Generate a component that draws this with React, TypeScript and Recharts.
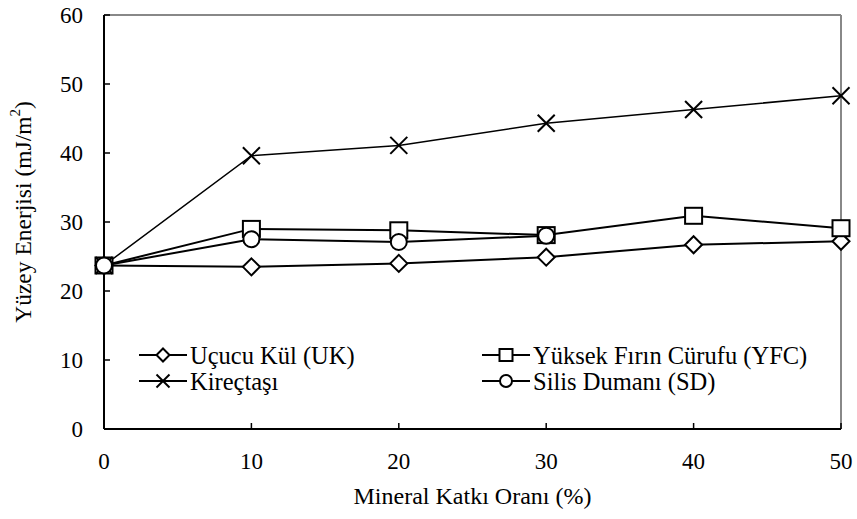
import { LineChart, Line, XAxis, YAxis, Legend, ReferenceLine } from 'recharts';

const FONT = 'Liberation Serif, Times New Roman, serif';

const katki = [0, 10, 20, 30, 40, 50];
const ucucuKul = [23.7, 23.5, 24.0, 24.9, 26.7, 27.2];
const yfc = [23.7, 29.0, 28.8, 28.1, 30.9, 29.1];
const kirectasi = [23.7, 39.6, 41.1, 44.3, 46.3, 48.3];
const silisDumani = [23.7, 27.5, 27.1, 28.0, null, null];

const xTicks = [0, 10, 20, 30, 40, 50];
const yTicks = [0, 10, 20, 30, 40, 50, 60];

const data = katki.map((k, i) => ({
  k,
  uk: ucucuKul[i],
  yfc: yfc[i],
  kir: kirectasi[i],
  sd: silisDumani[i],
}));

type Shape = 'diamond' | 'square' | 'cross' | 'circle';

function Marker({ cx, cy, shape, s = 8.5 }: { cx: number; cy: number; shape: Shape; s?: number }) {
  if (shape === 'diamond')
    return <polygon points={`${cx},${cy - s} ${cx + s},${cy} ${cx},${cy + s} ${cx - s},${cy}`} fill="#fff" stroke="#000" strokeWidth={2} />;
  if (shape === 'square')
    return <rect x={cx - s} y={cy - s + 0.5} width={2 * s} height={2 * s - 1} fill="#fff" stroke="#000" strokeWidth={2} />;
  if (shape === 'circle')
    return <circle cx={cx} cy={cy} r={s - 0.5} fill="#fff" stroke="#000" strokeWidth={2} />;
  return (
    <g stroke="#000" strokeWidth={2}>
      <line x1={cx - s} y1={cy - s} x2={cx + s} y2={cy + s} />
      <line x1={cx - s} y1={cy + s} x2={cx + s} y2={cy - s} />
    </g>
  );
}

const dotFor = (shape: Shape) => (p: any) => {
  if (p.value == null || p.cy == null) return <g key={`${shape}-${p.index}`} />;
  return <Marker key={`${shape}-${p.index}`} cx={p.cx} cy={p.cy} shape={shape} />;
};

const series = [
  { key: 'uk', name: 'Uçucu Kül (UK)', shape: 'diamond' as Shape, width: 2 },
  { key: 'yfc', name: 'Yüksek Fırın Cürufu (YFC)', shape: 'square' as Shape, width: 2 },
  { key: 'kir', name: 'Kireçtaşı', shape: 'cross' as Shape, width: 1.5 },
  { key: 'sd', name: 'Silis Dumanı (SD)', shape: 'circle' as Shape, width: 2 },
];

function YTick({ x, y, payload }: any) {
  return (
    <g>
      <line x1={x} y1={y} x2={x + 6} y2={y} stroke="#000" strokeWidth={1.5} />
      <text x={x - 21} y={y} textAnchor="end" dominantBaseline="central" fontFamily={FONT} fontSize={23} fill="#000">
        {payload.value}
      </text>
    </g>
  );
}

function XTick({ x, y, payload }: any) {
  return (
    <g>
      <line x1={x} y1={y} x2={x} y2={y - 6} stroke="#000" strokeWidth={1.5} />
      <text x={x} y={y + 32} textAnchor="middle" dominantBaseline="central" fontFamily={FONT} fontSize={23} fill="#000">
        {payload.value}
      </text>
    </g>
  );
}

// legend sits inside the plot, two columns
function LegendBox() {
  const cols = [
    { lx: 9, tx: 60 },
    { lx: 352, tx: 403 },
  ];
  const rows = [15, 41];
  return (
    <svg width={720} height={60} style={{ overflow: 'visible', display: 'block' }}>
      {series.map((s, i) => {
        const c = cols[i % 2];
        const y = rows[Math.floor(i / 2)];
        return (
          <g key={s.key}>
            <line x1={c.lx} y1={y} x2={c.lx + 48} y2={y} stroke="#000" strokeWidth={2} />
            <Marker cx={c.lx + 24} cy={y} shape={s.shape} s={6.5} />
            <text x={c.tx} y={y} dominantBaseline="central" fontFamily={FONT} fontSize={24.5} fill="#000">
              {s.name}
            </text>
          </g>
        );
      })}
    </svg>
  );
}

export default function App() {
  return (
    <div style={{ position: 'absolute', left: 0, top: 0, background: '#fff' }}>
      <LineChart width={857} height={519} data={data} margin={{ top: 15, right: 16, left: 0, bottom: 0 }}>
        <XAxis
          dataKey="k"
          type="number"
          domain={[0, 50]}
          ticks={xTicks}
          height={90}
          tickSize={0}
          tickMargin={0}
          tick={<XTick />}
          axisLine={{ stroke: '#000', strokeWidth: 2 }}
          label={{
            content: ({ viewBox }: any) => (
              <text x={viewBox.x + viewBox.width / 2} y={viewBox.y + 67} textAnchor="middle" dominantBaseline="central" fontFamily={FONT} fontSize={24} fill="#000">
                Mineral Katkı Oranı (%)
              </text>
            ),
          }}
        />
        <YAxis
          type="number"
          domain={[0, 60]}
          ticks={yTicks}
          width={104}
          tickSize={0}
          tickMargin={0}
          tick={<YTick />}
          axisLine={{ stroke: '#000', strokeWidth: 2 }}
          label={{
            content: ({ viewBox }: any) => (
              <text
                transform={`translate(23, ${viewBox.y + viewBox.height / 2 - 10}) rotate(-90)`}
                textAnchor="middle"
                dominantBaseline="central"
                fontFamily={FONT}
                fontSize={23.5}
                fill="#000"
              >
                Yüzey Enerjisi (mJ/m<tspan dy={-8} fontSize={15}>2</tspan><tspan dy={8}>)</tspan>
              </text>
            ),
          }}
        />
        <ReferenceLine y={60} stroke="#888" strokeWidth={2} />
        <ReferenceLine x={50} stroke="#888" strokeWidth={2} />
        <Legend
          content={() => <LegendBox />}
          wrapperStyle={{ position: 'absolute', left: 130, top: 340, width: 720, height: 0, overflow: 'visible' }}
        />
        {series.map(s => (
          <Line
            key={s.key}
            dataKey={s.key}
            name={s.name}
            stroke="#000"
            strokeWidth={s.width}
            dot={dotFor(s.shape)}
            activeDot={false}
            isAnimationActive={false}
            connectNulls={false}
          />
        ))}
      </LineChart>
    </div>
  );
}
